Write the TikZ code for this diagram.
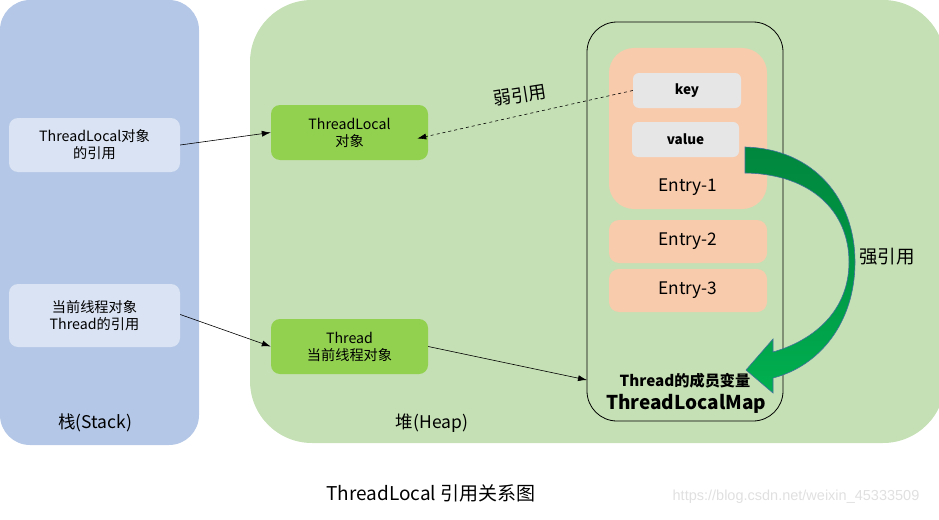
\documentclass[tikz,border=0pt]{standalone}
\usepackage{fontspec}
\setmainfont{Noto Sans CJK SC}
\newfontfamily\wmfont{Liberation Sans}
\usetikzlibrary{arrows.meta}
\definecolor{stackbg}{HTML}{B4C7E7}
\definecolor{heapbg}{HTML}{C5E0B4}
\definecolor{refbox}{HTML}{DAE3F3}
\definecolor{objbox}{HTML}{92D050}
\definecolor{entrybox}{HTML}{F8CBAD}
\definecolor{kvbox}{HTML}{E7E6E6}
\definecolor{arrdark}{HTML}{00873E}
\definecolor{arrlight}{HTML}{00B050}
\definecolor{arredge}{HTML}{41719C}
\begin{document}
\begin{tikzpicture}[x=1pt,y=-1pt,
  refstyle/.style={fill=refbox,rounded corners=9pt,minimum width=171pt,align=center,font=\fontsize{14.2}{17}\selectfont,inner sep=0pt},
  objstyle/.style={fill=objbox,rounded corners=9pt,minimum width=157pt,minimum height=55pt,align=center,font=\fontsize{14.2}{17}\selectfont,inner sep=0pt},
  entrystyle/.style={fill=entrybox,rounded corners=10pt,minimum width=158pt,minimum height=43pt,font=\fontsize{17.3}{19}\selectfont,inner sep=0pt},
  kvstyle/.style={fill=kvbox,rounded corners=6pt,minimum height=35pt,font=\bfseries\fontsize{13.5}{15}\selectfont,inner sep=0pt},
  conn/.style={-{Latex[length=9pt,width=6pt]},line width=0.6pt}]
\useasboundingbox (0,0) rectangle (939,519);
% panels
\fill[stackbg,rounded corners=30pt] (0,0) rectangle (199,445);
\fill[heapbg,rounded corners=62pt] (250,0) rectangle (945,443);
\node[font=\fontsize{17.5}{20}\selectfont] (stacklbl) at (95,423) {栈(Stack)};
\node[font=\fontsize{17.5}{20}\selectfont] (heaplbl) at (432,423) {堆(Heap)};
% stack refs
\node[refstyle,minimum height=54pt] (tlref) at (94.5,145) {ThreadLocal对象\\的引用};
\node[refstyle,minimum height=63pt] (thref) at (94.5,315.5) {当前线程对象\\Thread的引用};
% heap objects
\node[objstyle] (tlobj) at (349.5,132.5) {ThreadLocal\\对象};
\node[objstyle] (thobj) at (349.5,346.5) {Thread\\当前线程对象};
% map
\draw[line width=0.8pt,rounded corners=30pt] (587,22) rectangle (783,421);
\coordinate (map) at (587,380);
\node[fill=entrybox,rounded corners=25pt,minimum width=158pt,minimum height=161pt,inner sep=0pt] (e1) at (688,128.5) {};
\node[font=\fontsize{17.3}{19}\selectfont] (e1lbl) at (688,187) {Entry-1};
\node[kvstyle,minimum width=108pt] (key) at (687,90.5) {key};
\node[kvstyle,minimum width=107pt] (val) at (685.5,139.5) {value};
\node[entrystyle] (e2) at (688,241.5) {Entry-2};
\node[entrystyle] (e3) at (688,290.5) {Entry-3};
\node[font=\bfseries\fontsize{15.2}{17}\selectfont] (member) at (685,381) {Thread的成员变量};
\node[font=\bfseries\fontsize{19}{21}\selectfont] (mapname) at (686,404) {ThreadLocalMap};
% connectors
\draw[conn] (tlref.east) -- (tlobj.west);
\draw[conn] ([yshift=1pt]thref.east) -- (thobj.west);
\draw[conn] (thobj.east) -- (map);
\draw[conn,dashed] (key.west) -- ([xshift=-11pt,yshift=-6pt]tlobj.east);
\node[font=\fontsize{18}{20}\selectfont,rotate=9] (weak) at (520,95) {弱引用};
% strong reference curved arrow
\shade[top color=arrdark,bottom color=arrlight,middle color=arrdark!60!arrlight,draw=arredge,line width=0.6pt]
  (745,147) .. controls (815,149) and (855,200) .. (855,262)
  .. controls (855,322) and (820,366) .. (773,378)
  -- (773,393) -- (746,370) -- (773,339) -- (773,352)
  .. controls (815,340) and (849,310) .. (849,262)
  .. controls (849,212) and (812,174) .. (745,173) -- cycle;
\node[font=\fontsize{18.5}{20}\selectfont] (strong) at (887,257) {强引用};
% caption
\node[font=\fontsize{19}{21}\selectfont] (caption) at (431,493) {ThreadLocal 引用关系图};
\node[font=\wmfont\fontsize{14.5}{17}\selectfont,text=black!12,inner sep=0pt] (wm) at (796,497) {https://blog.csdn.net/weixin\_45333509};
\end{tikzpicture}
\end{document}
